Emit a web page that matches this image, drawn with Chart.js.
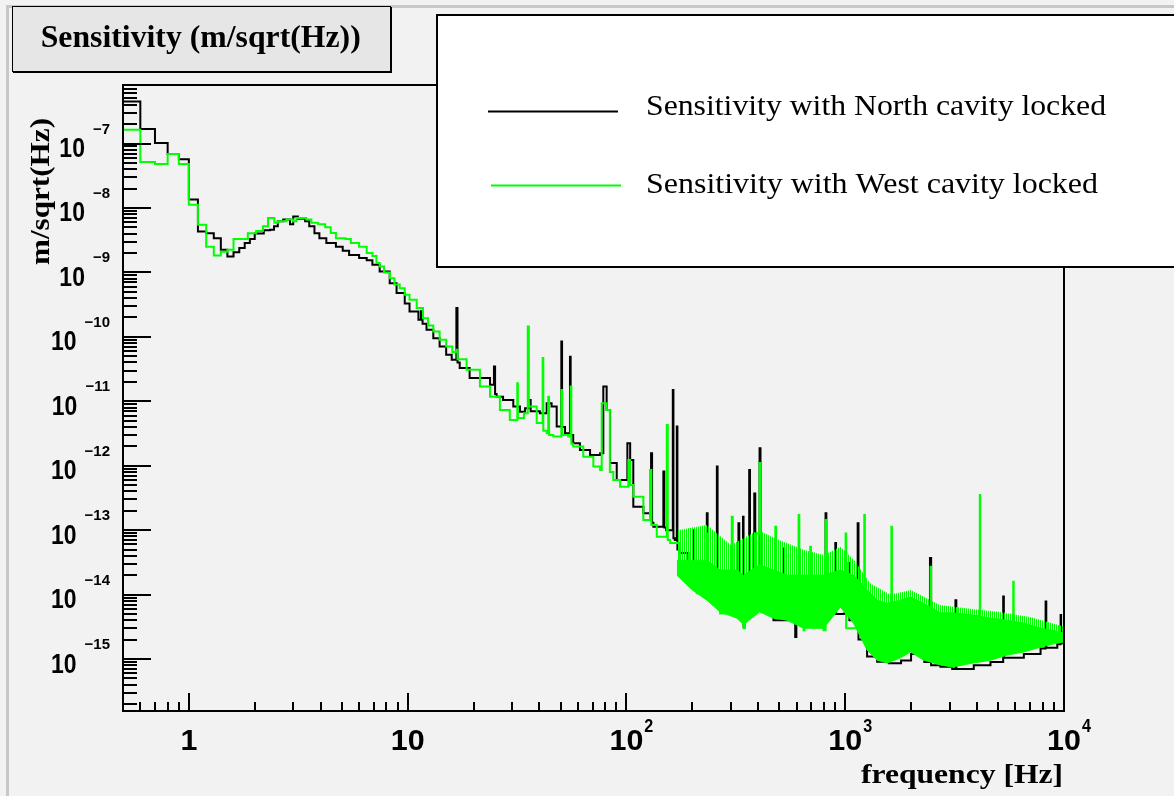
<!DOCTYPE html>
<html><head><meta charset="utf-8">
<script src="https://cdn.jsdelivr.net/npm/chart.js@4.4.1/dist/chart.umd.min.js"></script>
<style>html,body{margin:0;padding:0;background:#f2f2f2;}canvas{display:block;}</style>
</head><body>
<canvas id="c" width="1174" height="796"></canvas>
<script>
// ---- data (frequency in Hz, sensitivity in m/sqrt(Hz)) ----
const northFreq = [
  0.45, 0.5, 0.6, 0.7, 0.8, 0.9, 1.0, 1.1, 1.2, 1.3,
  1.4, 1.5, 1.6, 1.7, 1.8, 1.9, 2.0, 2.2, 2.35, 2.45,
  2.55, 2.7, 2.9, 3.0, 3.15, 3.4, 3.55, 3.75, 3.95, 4.25,
  4.7, 5.05, 5.4, 6.0, 6.5, 6.9, 7.45, 8.28, 8.9, 9.7,
  10.2, 11.2, 11.5, 11.7, 12.2, 13.1, 14.0, 15.0, 15.9, 16.7,
  16.9, 17.3, 19.2, 21.4, 23.8, 24.8, 25.1, 25.5, 27.3, 30.4,
  32.6, 34.4, 35.6, 36.5, 40.2, 43.2, 45.5, 48.0, 50.4, 50.8,
  52.4, 55.2, 55.6, 57.1, 61.3, 68.2, 75.8, 78.4, 81.2, 84.2,
  90.3, 101, 104, 107.5, 119.5, 129.6, 131, 132.8, 147.5, 149,
  151.8, 162.9, 164, 166.4, 169.9, 171, 175.9, 191.9, 202.4, 204,
  209.7, 233, 235, 241.5, 259, 261, 268, 298, 325, 328,
  341, 343, 347, 364, 367, 384, 388, 406, 410, 423, 470,
  522, 526, 591, 598, 669, 730, 813, 820, 855, 901, 908,
  984, 1037, 1045, 1140, 1150, 1259, 1400, 1581, 1800, 2000,
  2300, 2440, 2470, 2724, 3083, 3190, 3220, 3869, 4613, 5273,
  5310, 6553, 7815, 8240, 8300, 9319, 9650, 9700, 9999, 10000
];
const northValue = [
  1e-5, 4.5e-7, 1.68e-7, 1.02e-7, 6.85e-8, 5.7e-8, 1.35e-8, 4.3e-9, 4.07e-9, 3.4e-9,
  2.24e-9, 1.77e-9, 2.05e-9, 2.4e-9, 2.85e-9, 3.3e-9, 4.0e-9, 4.5e-9, 4.6e-9, 5.2e-9,
  6.2e-9, 6.6e-9, 5.6e-9, 7.4e-9, 6.8e-9, 6.2e-9, 5.2e-9, 4.07e-9, 3.4e-9, 2.85e-9,
  2.5e-9, 2.16e-9, 1.87e-9, 1.67e-9, 1.55e-9, 1.31e-9, 1.03e-9, 6.8e-10, 4.8e-10, 3.3e-10,
  2.47e-10, 1.84e-10, 2.5e-10, 1.6e-10, 1.29e-10, 9.5e-11, 7.1e-11, 5.25e-11, 4.4e-11, 2.8e-10,
  4.0e-11, 3.27e-11, 2.3e-11, 2.3e-11, 1.8e-11, 3.46e-11, 1.3e-11, 1.18e-11, 1.05e-11, 8.3e-12,
  6.9e-12, 7.8e-12, 1.05e-11, 7e-12, 6.5e-12, 9.3e-12, 8.3e-12, 4.05e-12, 8.45e-11, 4e-12,
  3.2e-12, 4.9e-11, 3e-12, 2.24e-12, 1.76e-12, 1.47e-12, 1.56e-12, 1.69e-11, 7.3e-12, 1.1e-12,
  6.0e-13, 2.24e-12, 1.23e-12, 2.3e-13, 1.83e-13, 1.56e-12, 1.3e-13, 1.13e-13, 8.1e-13, 1.1e-13,
  1.0e-13, 1.5e-11, 7.5e-14, 7.0e-14, 4.05e-12, 5e-14, 4.4e-14, 2.4e-14, 1e-13, 2e-14,
  1.69e-14, 1.83e-13, 1.3e-14, 1.18e-14, 9.7e-13, 8e-15, 5.8e-15, 8.2e-15, 1.28e-13, 6e-15,
  1.62e-13, 3.2e-15, 7e-15, 8.6e-13, 6e-15, 3.7e-13, 7e-15, 1.87e-12, 6e-15, 5.8e-15, 4.0e-15,
  5.2e-14, 4e-15, 2.2e-15, 8e-15, 9.3e-15, 5.8e-15, 1.83e-13, 5e-15, 8.2e-15, 6.3e-14, 5e-15,
  5.1e-15, 3.1e-14, 4e-15, 1.28e-13, 2e-15, 1.09e-15, 9.1e-16, 8.6e-16, 9.5e-16, 1.2e-15,
  9e-16, 3.7e-14, 8e-16, 7.6e-16, 7.0e-16, 8.2e-15, 7.0e-16, 8e-16, 9e-16, 9.3e-15,
  1.05e-15, 1.2e-15, 1.45e-15, 7.8e-15, 1.5e-15, 1.7e-15, 4.8e-15, 1.75e-15, 1.8e-15, 1e-5
];
const westFreq = [
  0.45, 0.5, 0.6, 0.7, 0.8, 0.9, 1.0, 1.1, 1.2, 1.3,
  1.4, 1.5, 1.6, 1.86, 2.03, 2.18, 2.3, 2.46, 2.55, 2.79,
  2.99, 3.1, 3.44, 3.63, 3.9, 4.2, 4.45, 4.7, 5.2, 5.5,
  6.0, 6.5, 6.9, 7.2, 7.45, 7.8, 8.3, 8.7, 9.2, 9.7,
  10.2, 11.0, 11.75, 12.4, 13.1, 14.0, 15.0, 16.0, 16.7, 16.9,
  18.6, 21.4, 23.8, 26.4, 29.3, 31.7, 31.9, 34.0, 35.4, 35.8,
  38.9, 41.4, 41.7, 43.2, 43.9, 44.3, 46.3, 50.4, 50.8, 54.2,
  55.6, 56.0, 57.1, 63.5, 70.6, 75.8, 77.1, 81.2, 84, 87.1,
  93.5, 102, 104, 107.5, 119.5, 128.2, 130, 137.6, 152.9, 154.5,
  158.5, 175.9, 195.4, 209.7, 233, 236, 250, 268, 303, 306,
  320, 343, 348, 388, 406, 409, 438, 479, 483, 542, 612,
  617, 645, 650, 692, 697, 796, 813, 818, 885, 950, 1004,
  1010, 1222, 1230, 1625, 1635, 2454, 2470, 4123, 4140, 5860,
  5890, 9980, 9995, 10000
];
const westValue = [
  1e-5, 1.64e-7, 5.15e-8, 4.8e-8, 6.9e-8, 4.8e-8, 1.12e-8, 5.5e-9, 2.5e-9, 1.83e-9,
  2.1e-9, 2.24e-9, 3.3e-9, 4.07e-9, 4.4e-9, 5.2e-9, 7.0e-9, 5.9e-9, 6.2e-9, 6.6e-9,
  6.2e-9, 7.0e-9, 6.6e-9, 5.9e-9, 5.6e-9, 5.0e-9, 4.1e-9, 3.4e-9, 3.3e-9, 2.85e-9,
  2.5e-9, 2.0e-9, 1.8e-9, 1.4e-9, 1.24e-9, 1.0e-9, 8.1e-10, 6.5e-10, 5.7e-10, 4.5e-10,
  3.76e-10, 2.8e-10, 1.95e-10, 1.5e-10, 1.21e-10, 9e-11, 7.1e-11, 5.8e-11, 6.3e-11, 4.5e-11,
  3.08e-11, 1.69e-11, 1.18e-11, 7.3e-12, 5.1e-12, 1.9e-11, 5.5e-12, 6.5e-12, 1.45e-10, 8.3e-12,
  4.6e-12, 4.7e-11, 3.5e-12, 3.2e-12, 1.18e-11, 3e-12, 2.83e-12, 1.5e-11, 3e-12, 2.83e-12,
  1.69e-11, 2.2e-12, 1.98e-12, 1.38e-12, 9.7e-13, 8.6e-13, 9.3e-12, 7.3e-12, 8e-13, 6.0e-13,
  4.7e-13, 1.23e-12, 5e-13, 3.3e-13, 1.44e-13, 8.6e-13, 1.2e-13, 7.9e-14, 4.3e-12, 7e-14,
  6.3e-14, 1.9e-14, 1.69e-14, 1.05e-14, 8.9e-14, 2e-14, 1.33e-14, 5.1e-15, 1.62e-13, 1e-14,
  5.1e-15, 3.0e-15, 1.0e-14, 8.9e-14, 1.1e-12, 2e-14, 1.05e-14, 1.13e-13, 1e-14, 5.1e-15, 1.72e-13,
  8e-15, 2.8e-15, 1e-14, 5.5e-14, 1e-14, 2.8e-15, 1.44e-13, 1e-14, 2.1e-14, 1.33e-14, 8.9e-14,
  3e-15, 1.72e-13, 2e-15, 1.13e-13, 2e-15, 2.7e-14, 2e-15, 3.5e-13, 2e-15, 1.58e-14,
  2e-15, 2e-15, 2.2e-14, 1e-17
];
// envelope of the dense (unresolved) core of the West spectrum
const westBandFreq  = [170, 200, 233, 268, 320, 343, 406, 470, 542, 645, 796, 950, 1092, 1258, 1398, 1554, 1787, 1986, 2285, 2724, 3083, 3869, 4613, 5503, 6553, 7815, 9319, 9990];
const westBandUpper = [3.4e-14, 3.4e-14, 3.4e-14, 2.4e-14, 2.4e-14, 2.0e-14, 2.9e-14, 2.4e-14, 2.0e-14, 2.0e-14, 2.0e-14, 2.4e-14, 2.0e-14, 1.2e-14, 8.2e-15, 7.3e-15, 8.2e-15, 9.2e-15, 7.3e-15, 5.2e-15, 5.2e-15, 4.8e-15, 4.3e-15, 4.0e-15, 3.6e-15, 3.0e-15, 2.7e-15, 2.5e-15];
const westBandLower = [2.0e-14, 1.18e-14, 8.2e-15, 5.4e-15, 4.3e-15, 3.4e-15, 5.4e-15, 4.3e-15, 4.0e-15, 3.0e-15, 3.0e-15, 6.4e-15, 3.6e-15, 1.38e-15, 9.6e-16, 8.7e-16, 1.04e-15, 1.29e-15, 9.6e-16, 8.1e-16, 7.5e-16, 8.7e-16, 9.6e-16, 1.15e-15, 1.29e-15, 1.53e-15, 1.77e-15, 1.84e-15];
// upper reach of the dense line forest above the core
const westHazeFreq  = [170, 233, 300, 400, 500, 650, 800, 950, 1100, 1300, 1600, 2000, 2700, 3500, 5000, 7000, 9990];
const westHazeUpper = [1.0e-13, 1.2e-13, 5.9e-14, 1.0e-13, 7e-14, 4.9e-14, 4.1e-14, 5.5e-14, 3.4e-14, 1.5e-14, 1.0e-14, 1.18e-14, 6.9e-15, 6.2e-15, 5.4e-15, 4.5e-15, 3.2e-15];

const xTickValues = [1, 10, 100, 1000, 10000];
const xTickBase   = ['1', '10', '10', '10', '10'];
const xTickExp    = ['', '', '2', '3', '4'];
const yTickValues = [1e-7, 1e-8, 1e-9, 1e-10, 1e-11, 1e-12, 1e-13, 1e-14, 1e-15];
const yTickExp    = ['\u22127', '\u22128', '\u22129', '\u221210', '\u221211', '\u221212', '\u221213', '\u221214', '\u221215'];
const legendLabels = ['Sensitivity with North cavity locked', 'Sensitivity with West cavity locked'];
const titleText = 'Sensitivity (m/sqrt(Hz))';
const xTitle = 'frequency [Hz]';
const yTitle = 'm/sqrt(Hz)';

const pts = (fs, vs) => fs.map((f, i) => ({ x: f, y: vs[i] }));
const GREEN = '#00ff00';

function drawScaled(c, text, x, y, font, sx, align) {
  c.save(); c.font = font; c.textAlign = align || 'left'; c.textBaseline = 'alphabetic';
  c.translate(x, y); c.scale(sx, 1); c.fillText(text, 0, 0); c.restore();
}
function fitText(c, text, x, y, font, width, align) {
  c.save(); c.font = font; const w = c.measureText(text).width; c.restore();
  drawScaled(c, text, x, y, font, width / w, align);
}

const rootStyle = {
  id: 'rootStyle',
  beforeDraw(chart) {
    const c = chart.ctx;
    c.save();
    c.fillStyle = '#f2f2f2'; c.fillRect(0, 0, chart.width, chart.height);
    c.fillStyle = '#c8c8c8'; c.fillRect(6, 5, 3, chart.height); c.fillRect(6, 5, chart.width, 3);
    c.restore();
  },
  afterDraw(chart) {
    const c = chart.ctx, xs = chart.scales.x, ys = chart.scales.y, a = chart.chartArea;
    c.save();
    c.strokeStyle = '#000'; c.fillStyle = '#000';
    c.lineWidth = 2;
    c.strokeRect(a.left, a.top, a.right - a.left, a.bottom - a.top);
    c.beginPath();
    for (let e = -1; e <= 4; e++) for (let m = 1; m <= 9; m++) {
      const v = m * Math.pow(10, e);
      if (v < xs.min * 0.999 || v > xs.max * 1.001) continue;
      const px = Math.round(xs.getPixelForValue(v));
      const len = m === 1 ? 18 : 9;
      c.moveTo(px, a.bottom); c.lineTo(px, a.bottom - len);
    }
    for (let e = -17; e <= -6; e++) for (let m = 1; m <= 9; m++) {
      const v = m * Math.pow(10, e);
      if (v < ys.min || v > ys.max) continue;
      const py = Math.round(ys.getPixelForValue(v));
      const len = m === 1 ? 28 : 14;
      c.moveTo(a.left, py); c.lineTo(a.left + len, py);
    }
    c.stroke();
    xTickValues.forEach((v, i) => {
      const px = xs.getPixelForValue(v);
      const bf = 'bold 29px "Liberation Sans", Arial, sans-serif';
      c.font = bf; const bw = c.measureText(xTickBase[i]).width * 1.05;
      drawScaled(c, xTickBase[i], px, 750, bf, 1.05, 'center');
      if (xTickExp[i]) drawScaled(c, xTickExp[i], px + bw / 2 + 1, 732, 'bold 19px "Liberation Sans", Arial, sans-serif', 0.85, 'left');
    });
    yTickValues.forEach((v, i) => {
      const py = ys.getPixelForValue(v);
      const ef = 'bold 15px "Liberation Sans", Arial, sans-serif';
      c.font = ef; const ew = c.measureText(yTickExp[i]).width;
      drawScaled(c, yTickExp[i], 110, py - 10, ef, 1, 'right');
      drawScaled(c, '10', 110 - ew - 8, py + 13.5, 'bold 28px "Liberation Sans", Arial, sans-serif', 0.82, 'right');
    });
    fitText(c, xTitle, 1063, 783, 'bold 27px "Liberation Serif", "Times New Roman", serif', 202, 'right');
    c.save();
    c.translate(49, 118); c.rotate(-Math.PI / 2);
    fitText(c, yTitle, 0, 0, 'bold 27px "Liberation Serif", "Times New Roman", serif', 147, 'right');
    c.restore();
    // legend
    c.fillStyle = '#ffffff'; c.fillRect(437, 15, 760, 252);
    c.lineWidth = 2; c.strokeStyle = '#000'; c.strokeRect(437, 15, 760, 252);
    c.beginPath(); c.strokeStyle = '#000'; c.moveTo(488, 111.5); c.lineTo(618, 111.5); c.stroke();
    c.beginPath(); c.strokeStyle = GREEN; c.moveTo(491, 185.5); c.lineTo(621, 185.5); c.stroke();
    c.fillStyle = '#000';
    fitText(c, legendLabels[0], 646, 115, '30px "Liberation Serif", "Times New Roman", serif', 460, 'left');
    fitText(c, legendLabels[1], 646, 193, '30px "Liberation Serif", "Times New Roman", serif', 452, 'left');
    // title box
    c.fillStyle = '#e6e6e6'; c.fillRect(12, 6, 378, 65);
    c.strokeStyle = '#000'; c.lineWidth = 1; c.strokeRect(12.5, 6.5, 378, 65);
    c.lineWidth = 2; c.beginPath(); c.moveTo(391, 7); c.lineTo(391, 72); c.lineTo(13, 72); c.stroke();
    c.fillStyle = '#000';
    fitText(c, titleText, 40.7, 47, 'bold 31px "Liberation Serif", "Times New Roman", serif', 320, 'left');
    c.restore();
  }
};

const ctx = document.getElementById('c').getContext('2d');
// vertical-line texture for the partly resolved line forest
const hatchCanvas = document.createElement('canvas');
hatchCanvas.width = 2; hatchCanvas.height = 1;
const hctx = hatchCanvas.getContext('2d');
hctx.fillStyle = GREEN; hctx.fillRect(0, 0, 1, 1);
const hatch = ctx.createPattern(hatchCanvas, 'repeat');

new Chart(ctx, {
  type: 'line',
  data: {
    datasets: [
      { label: legendLabels[1], data: pts(westFreq, westValue), borderColor: GREEN, borderWidth: 2,
        stepped: true, pointRadius: 0, fill: false, order: 0 },
      { label: 'West dense core (upper)', data: pts(westBandFreq, westBandUpper), borderColor: GREEN,
        backgroundColor: GREEN, borderWidth: 1, pointRadius: 0, fill: '+1', order: 1 },
      { label: 'West dense core (lower)', data: pts(westBandFreq, westBandLower), borderColor: GREEN,
        borderWidth: 1, pointRadius: 0, fill: false, order: 2 },
      { label: 'West line forest (upper reach)', data: pts(westHazeFreq, westHazeUpper), borderColor: 'rgba(0,255,0,0)',
        backgroundColor: hatch, borderWidth: 0, pointRadius: 0, fill: 1, order: 3 },
      { label: legendLabels[0], data: pts(northFreq, northValue), borderColor: '#000000', borderWidth: 2,
        stepped: true, pointRadius: 0, fill: false, order: 4 }
    ]
  },
  options: {
    responsive: false, devicePixelRatio: 1, animation: false, events: [],
    layout: { padding: { left: 123, right: 110, top: 85, bottom: 85 } },
    plugins: { legend: { display: false }, tooltip: { enabled: false }, title: { display: false } },
    scales: {
      x: { type: 'logarithmic', min: 0.5, max: 10000, display: false },
      y: { type: 'logarithmic', min: 1.56e-16, max: 8.1e-7, display: false }
    }
  },
  plugins: [rootStyle]
});
</script>
</body></html>
